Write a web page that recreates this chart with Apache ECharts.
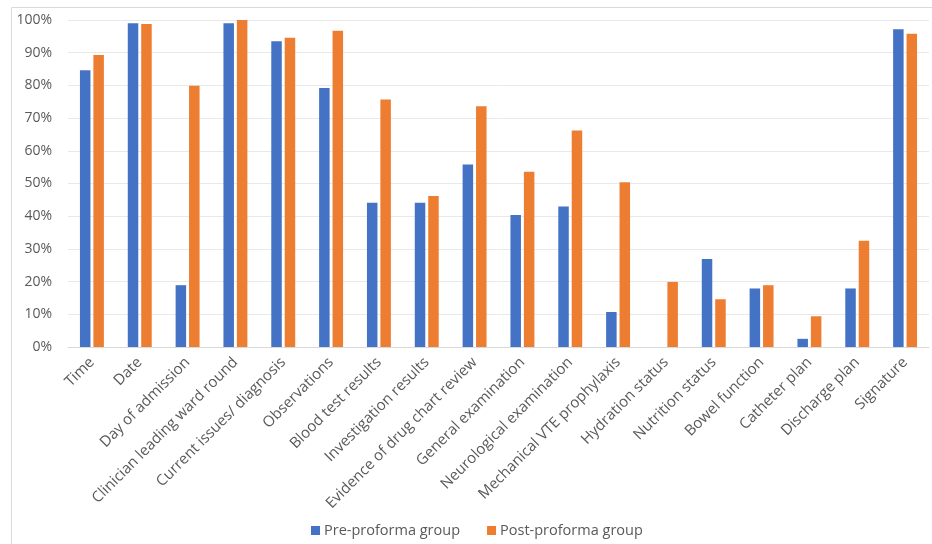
<!DOCTYPE html>
<html><head><meta charset="utf-8">
<script src="https://cdn.jsdelivr.net/npm/echarts@6/dist/echarts.min.js"></script>
<style>html,body{margin:0;padding:0;background:#fff}#c{width:932px;height:544px}</style>
</head><body><div id="c"></div>
<script>
const categories = ["Time","Date","Day of admission","Clinician leading ward round","Current issues/ diagnosis","Observations","Blood test results","Investigation results","Evidence of drug chart review","General examination","Neurological examination","Mechanical VTE prophylaxis","Hydration status","Nutrition status","Bowel function","Catheter plan","Discharge plan","Signature"];
const preValues = [84.6,99,18.9,99,93.5,79.2,44.1,44.1,55.8,40.4,43.0,10.7,0,26.9,17.9,2.5,17.9,97.2];
const postValues = [89.3,98.8,79.9,100,94.6,96.7,75.7,46.2,73.6,53.6,66.2,50.4,19.9,14.6,18.9,9.4,32.5,95.8];
const seriesNames = ["Pre-proforma group","Post-proforma group"];
const yTicks = [0,10,20,30,40,50,60,70,80,90,100];

const font = '"Open Sans", "Noto Sans", sans-serif';
const chart = echarts.init(document.getElementById('c'), null, {renderer:'canvas'});
chart.setOption({
  animation:false,
  backgroundColor:'#fff',
  graphic:[{type:'rect', shape:{x:11.5,y:7.5,width:940,height:560}, style:{fill:'none', stroke:'#d9d9d9', lineWidth:1}, silent:true}],
  grid:{left:68,right:3,top:20,bottom:197,containLabel:false},
  legend:{
    bottom:1, left:306,
    itemWidth:9, itemHeight:9, itemGap:27,
    icon:'rect',
    textStyle:{fontFamily:font, fontSize:14.5, color:'#595959', padding:[0,0,0,-1]},
    data:seriesNames
  },
  xAxis:{
    type:'category', data:categories,
    axisLine:{lineStyle:{color:'#d9d9d9'}},
    axisTick:{show:false},
    axisLabel:{rotate:45, interval:0, margin:13, fontFamily:font, fontSize:15, color:'#595959'}
  },
  yAxis:{
    type:'value', min:yTicks[0], max:yTicks[yTicks.length-1], interval:10,
    axisLine:{show:false}, axisTick:{show:false},
    splitLine:{lineStyle:{color:'#e9e9e9'}},
    axisLabel:{formatter:'{value}%', fontFamily:font, fontSize:14, color:'#595959', margin:16}
  },
  series:[
    {name:seriesNames[0], type:'bar', data:preValues, barWidth:10.5, barGap:'28%', itemStyle:{color:'#4472C4'}},
    {name:seriesNames[1], type:'bar', data:postValues, barWidth:10.5, barGap:'28%', itemStyle:{color:'#ED7D31'}}
  ]
});
</script></body></html>
